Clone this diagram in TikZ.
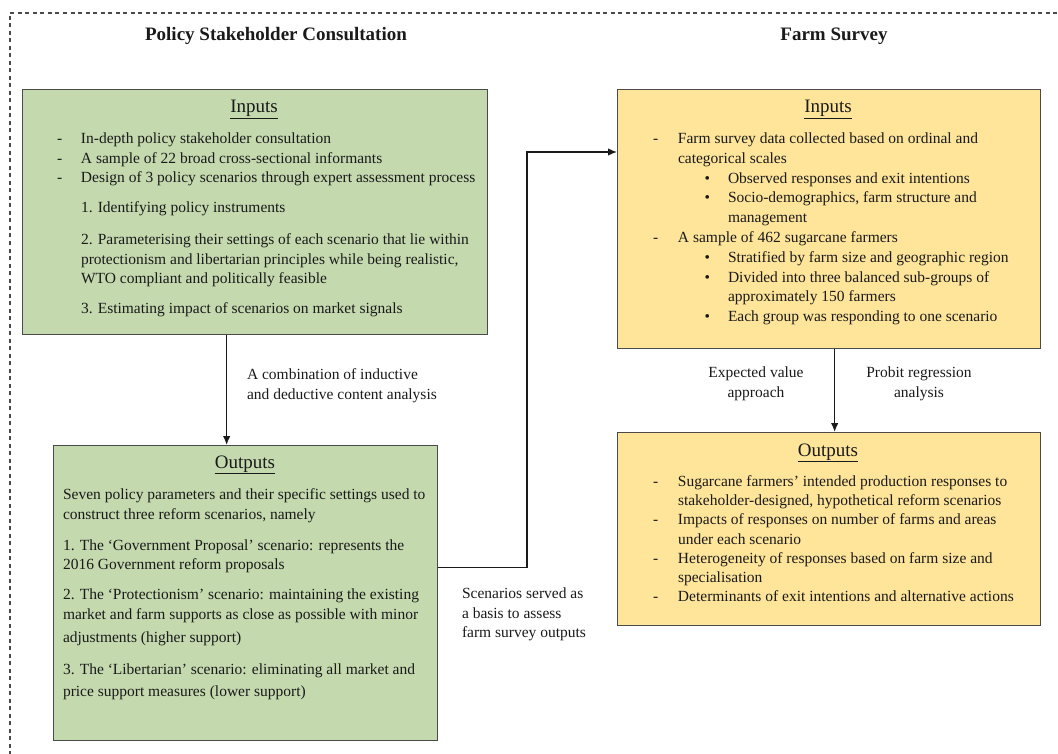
\documentclass[tikz,border=0pt]{standalone}
\usepackage{fontspec}
\setmainfont{Liberation Serif}
\usetikzlibrary{arrows.meta,calc}
\definecolor{gfill}{HTML}{C5D9AF}
\definecolor{yfill}{HTML}{FFE59A}
\definecolor{edge}{HTML}{4A4A4A}
\definecolor{ink}{HTML}{1A1A1A}
\newcommand{\bodyf}[1]{\fontsize{15.5}{#1}\selectfont}
\tikzset{
  gbox/.style={draw=edge, line width=1.3pt, fill=gfill, inner sep=0pt, anchor=north west},
  ybox/.style={draw=edge, line width=1.3pt, fill=yfill, inner sep=0pt, anchor=north west},
  txt/.style={inner sep=0pt, outer sep=0pt, text=ink},
  head/.style={inner sep=0pt, text=ink, anchor=base, font=\fontsize{19}{23}\selectfont},
  title/.style={inner sep=0pt, text=ink, anchor=base, font=\fontsize{19}{23}\selectfont\bfseries},
  arr/.style={draw=ink, line width=1.3pt, -{Latex[length=9pt,width=7.5pt]}},
}
\begin{document}
\begin{tikzpicture}[x=1pt,y=-1pt]
\useasboundingbox (0,0) rectangle (1058,754);
% dashed frame
\draw[edge, line width=1.2pt, dash pattern=on 4pt off 3.5pt] (10,800) -- (10,13) -- (1090,13);

% titles
\node[title] (t1) at (276,41) {Policy Stakeholder Consultation};
\node[title] (t2) at (834,41) {Farm Survey};

% boxes
\node[gbox, minimum width=465pt, minimum height=245pt] (gin) at (22,89) {};
\node[gbox, minimum width=384pt, minimum height=295pt] (gout) at (53,445) {};
\node[ybox, minimum width=423pt, minimum height=259pt] (yin) at (617,89) {};
\node[ybox, minimum width=423pt, minimum height=193pt] (yout) at (617,432) {};

% headings
\node[head] (h1) at (254,113) {\underline{Inputs}};
\node[head] (h2) at (245,468) {\underline{Outputs}};
\node[head] (h3) at (828,113) {\underline{Inputs}};
\node[head] (h4) at (828,456) {\underline{Outputs}};

% green inputs text
\node[txt, anchor=north west] (ginT) at (57,130) {\bodyf{19.5}%
\begin{tabular}{@{}p{24pt}@{}l@{}}
-&In-depth policy stakeholder consultation\\
-&A sample of 22 broad cross-sectional informants\\
-&Design of 3 policy scenarios through expert assessment process\\[10.5pt]
&1. Identifying policy instruments\\[12.5pt]
&2. Parameterising their settings of each scenario that lie within\\
&protectionism and libertarian principles while being realistic,\\
&WTO compliant and politically feasible\\[10.5pt]
&3. Estimating impact of scenarios on market signals
\end{tabular}};

% green outputs text
\node[txt, anchor=north west] (goutT) at (63,486) {\bodyf{19.5}%
\begin{tabular}{@{}l@{}}
Seven policy parameters and their specific settings used to\\
construct three reform scenarios, namely\\[11.5pt]
1. The ‘Government Proposal’ scenario: represents the\\
2016 Government reform proposals\\[10.5pt]
2. The ‘Protectionism’ scenario: maintaining the existing\\
market and farm supports as close as possible with minor\\[3.5pt]
adjustments (higher support)\\[12.5pt]
3. The ‘Libertarian’ scenario: eliminating all market and\\[2.5pt]
price support measures (lower support)
\end{tabular}};

% yellow inputs text
\node[txt, anchor=north west] (yinT) at (653,129.6) {\bodyf{19.8}%
\begin{tabular}{@{}p{25pt}@{}l@{}}
-&Farm survey data collected based on ordinal and\\
&categorical scales\\
&\hspace*{26.5pt}\makebox[23.5pt][l]{•}Observed responses and exit intentions\\
&\hspace*{26.5pt}\makebox[23.5pt][l]{•}Socio-demographics, farm structure and\\
&\hspace*{50pt}management\\
-&A sample of 462 sugarcane farmers\\
&\hspace*{26.5pt}\makebox[23.5pt][l]{•}Stratified by farm size and geographic region\\
&\hspace*{26.5pt}\makebox[23.5pt][l]{•}Divided into three balanced sub-groups of\\
&\hspace*{50pt}approximately 150 farmers\\
&\hspace*{26.5pt}\makebox[23.5pt][l]{•}Each group was responding to one scenario
\end{tabular}};

% yellow outputs text
\node[txt, anchor=north west] (youtT) at (653,473) {\bodyf{19.2}%
\begin{tabular}{@{}p{25pt}@{}l@{}}
-&Sugarcane farmers’ intended production responses to\\
&stakeholder-designed, hypothetical reform scenarios\\
-&Impacts of responses on number of farms and areas\\
&under each scenario\\
-&Heterogeneity of responses based on farm size and\\
&specialisation\\
-&Determinants of exit intentions and alternative actions
\end{tabular}};

% connector labels
\node[txt, anchor=north west] (l1) at (247,365.5) {\bodyf{20}%
\begin{tabular}{@{}l@{}}A combination of inductive\\and deductive content analysis\end{tabular}};
\node[txt, anchor=north west] (l2) at (462,585) {\bodyf{19.5}%
\begin{tabular}{@{}l@{}}Scenarios served as\\a basis to assess\\farm survey outputs\end{tabular}};
\node[txt, anchor=north] (l3) at (756,363.5) {\bodyf{20}%
\begin{tabular}{@{}c@{}}Expected value\\approach\end{tabular}};
\node[txt, anchor=north] (l4) at (919,363.5) {\bodyf{20}%
\begin{tabular}{@{}c@{}}Probit regression\\analysis\end{tabular}};

% connectors
\draw[arr] ([xshift=-28.5pt]gin.south) -- ([xshift=-28.5pt]gin.south |- gout.north);
\coordinate (bend) at (527,152);
\draw[arr] ([yshift=25.5pt]gout.east) -| (bend) -- (bend -| yin.west);
\draw[arr] ([xshift=5.5pt]yin.south) -- ([xshift=5.5pt]yin.south |- yout.north);
\end{tikzpicture}
\end{document}
